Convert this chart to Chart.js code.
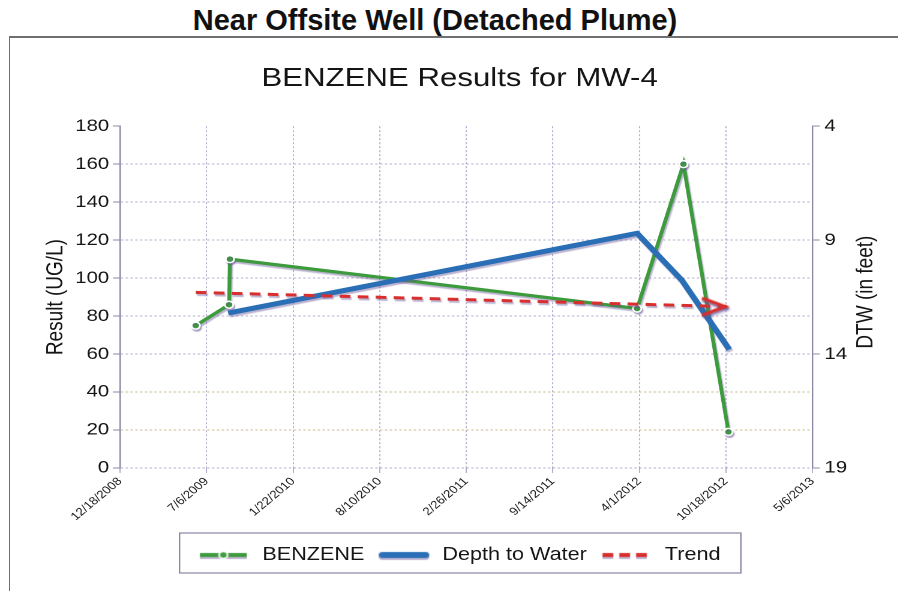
<!DOCTYPE html>
<html>
<head>
<meta charset="utf-8">
<title>BENZENE Results for MW-4</title>
<script src="https://cdn.jsdelivr.net/npm/chart.js@4"></script>
<style>
  body { margin: 0; background: #fff; width: 898px; height: 591px; overflow: hidden; position: relative; font-family: 'Liberation Sans', Arial, sans-serif; }
  #heading { position: absolute; left: 0; top: 4px; width: 870px; text-align: center; font-weight: bold; font-size: 29px; line-height: 32px; color: #111; }
  #frame { position: absolute; left: 9px; top: 36px; width: 1000px; height: 1000px; border-top: 2px solid #707070; border-left: 1px solid #707070; }
  /* the scanned chart is stretched sideways, so the canvas is too */
  #wrap { position: absolute; left: 0; top: 0; width: 748px; height: 591px; transform: scaleX(1.2); transform-origin: 0 0; }
</style>
</head>
<body>
<div id="heading">Near Offsite Well (Detached Plume)</div>
<div id="frame"></div>
<div id="wrap"><canvas id="mwChart"></canvas></div>
<script>
// x values are days since 12/18/2008
const xTickDays = [0, 200, 400, 600, 800, 1000, 1200, 1400, 1600];
const xTickLabels = ['12/18/2008', '7/6/2009', '1/22/2010', '8/10/2010', '2/26/2011', '9/14/2011', '4/1/2012', '10/18/2012', '5/6/2013'];

const benzeneDays = [175, 252, 254, 1195, 1302, 1406];
const benzeneValues = [75, 86, 110, 84, 160, 19];

const dtwDays = [250, 1195, 1298, 1408];
const dtwValues = [12.2, 8.7, 10.75, 13.8];

const trendDays = [175, 1403];
const trendValues = [92.5, 85];

const dtwTitle = 'DTW (in feet)';

const FONT = "'Liberation Sans', Arial, sans-serif";
const TEXT = '#151515';
const GREEN = '#3d9b3d';
const BLUE = '#2a6fb6';
const RED = '#d8302e';
const AXIS = '#8c86a6';
const GRID = 'rgba(150,140,185,0.7)';

function toPoints(xs, ys) {
    return xs.map((x, i) => ({ x: x, y: ys[i] }));
}

function sampleCanvas(draw) {
    const c = document.createElement('canvas');
    c.width = 44;
    c.height = 18;
    const g = c.getContext('2d');
    g.shadowColor = 'rgba(105,85,150,0.45)';
    g.shadowOffsetY = 2;
    draw(g);
    return c;
}

const legendSamples = [
    sampleCanvas(g => {
        g.strokeStyle = GREEN; g.lineWidth = 4;
        g.beginPath(); g.moveTo(1, 9); g.lineTo(40, 9); g.stroke();
        g.shadowColor = 'transparent';
        g.fillStyle = GREEN; g.strokeStyle = '#fff'; g.lineWidth = 1.5;
        g.beginPath(); g.arc(20.5, 9, 3.5, 0, Math.PI * 2); g.fill(); g.stroke();
    }),
    sampleCanvas(g => {
        g.strokeStyle = BLUE; g.lineWidth = 6; g.lineCap = 'round';
        g.beginPath(); g.moveTo(3, 9); g.lineTo(39, 9); g.stroke();
    }),
    sampleCanvas(g => {
        g.strokeStyle = RED; g.lineWidth = 4; g.setLineDash([9, 5]);
        g.beginPath(); g.moveTo(1, 9); g.lineTo(41, 9); g.stroke();
    })
];

// open chevron at the end of the trend line, tip in the centre of the image
const arrowHead = document.createElement('canvas');
arrowHead.width = 46;
arrowHead.height = 22;
(function () {
    const g = arrowHead.getContext('2d');
    g.shadowColor = 'rgba(105,85,150,0.45)';
    g.shadowOffsetY = 2;
    g.strokeStyle = RED;
    g.lineWidth = 3;
    g.beginPath();
    g.moveTo(2, 2.5);
    g.lineTo(21.5, 11);
    g.lineTo(2, 19.5);
    g.stroke();
})();

const printShadow = {
    id: 'printShadow',
    beforeDatasetDraw(chart) {
        const c = chart.ctx;
        c.save();
        c.shadowColor = 'rgba(105,85,150,0.45)';
        c.shadowOffsetX = 2;
        c.shadowOffsetY = 4;
        c.shadowBlur = 2;
    },
    afterDatasetDraw(chart) {
        chart.ctx.restore();
    }
};

const legendFrame = {
    id: 'legendFrame',
    afterDraw(chart) {
        const boxes = chart.legend.legendHitBoxes;
        if (!boxes || !boxes.length) return;
        const first = boxes[0];
        const last = boxes[boxes.length - 1];
        const left = first.left - 16;
        const right = last.left + last.width + 17;
        const mid = first.top + first.height / 2;
        const c = chart.ctx;
        c.save();
        c.strokeStyle = AXIS;
        c.lineWidth = 1.2;
        c.strokeRect(left, mid - 22, right - left, 40);
        c.restore();
    }
};

// right axis title reads bottom-to-top like the left one
const rightTitle = {
    id: 'rightTitle',
    afterDraw(chart) {
        const s = chart.scales.y2;
        const c = chart.ctx;
        c.save();
        c.translate(s.right - 26, (s.top + s.bottom) / 2 - 5);
        c.rotate(-Math.PI / 2);
        c.font = '19px ' + FONT;
        c.fillStyle = TEXT;
        c.textAlign = 'center';
        c.textBaseline = 'middle';
        c.fillText(dtwTitle, 0, 0);
        c.restore();
    }
};

const ctx = document.getElementById('mwChart').getContext('2d');
const mwChart = new Chart(ctx, {
    type: 'line',
    data: {
        datasets: [
            {
                label: 'BENZENE',
                data: toPoints(benzeneDays, benzeneValues),
                borderColor: GREEN,
                backgroundColor: GREEN,
                borderWidth: 3.2,
                pointRadius: 3.5,
                pointBackgroundColor: GREEN,
                pointBorderColor: '#fff',
                pointBorderWidth: 1.5,
                yAxisID: 'y',
                order: 3
            },
            {
                label: 'Depth to Water',
                data: toPoints(dtwDays, dtwValues),
                borderColor: BLUE,
                backgroundColor: BLUE,
                borderWidth: 5,
                pointRadius: 0,
                yAxisID: 'y2',
                order: 2
            },
            {
                label: 'Trend',
                data: toPoints(trendDays, trendValues),
                borderColor: RED,
                backgroundColor: RED,
                borderWidth: 3,
                borderDash: [9, 6],
                pointStyle: arrowHead,
                pointRadius: (c) => c.dataIndex === trendValues.length - 1 ? 6 : 0,
                yAxisID: 'y',
                order: 1
            }
        ]
    },
    options: {
        responsive: true,
        maintainAspectRatio: false,
        devicePixelRatio: 2,
        animation: false,
        events: [],
        layout: {
            padding: { left: 18, right: 0, top: 0, bottom: 17 }
        },
        plugins: {
            title: {
                display: true,
                text: 'BENZENE Results for MW-4',
                color: TEXT,
                font: { family: FONT, size: 26, weight: 'normal' },
                padding: { top: 63, bottom: 32 }
            },
            legend: {
                position: 'bottom',
                labels: {
                    usePointStyle: true,
                    pointStyleWidth: 44,
                    padding: 12,
                    color: TEXT,
                    font: { family: FONT, size: 18 },
                    generateLabels: (chart) => chart.data.datasets.map((ds, i) => ({
                        text: ds.label,
                        pointStyle: legendSamples[i],
                        datasetIndex: i,
                        hidden: false,
                        lineWidth: 0,
                        fontColor: TEXT,
                        fillStyle: 'transparent',
                        strokeStyle: 'transparent'
                    }))
                }
            },
            tooltip: { enabled: false }
        },
        scales: {
            x: {
                type: 'linear',
                min: xTickDays[0],
                max: xTickDays[xTickDays.length - 1],
                afterBuildTicks: (s) => { s.ticks = xTickDays.map(v => ({ value: v })); },
                afterFit: (s) => { s.height = 66; },
                ticks: {
                    autoSkip: false,
                    minRotation: 45,
                    maxRotation: 45,
                    padding: 2,
                    color: '#1a1a1a',
                    font: { family: FONT, size: 11 },
                    callback: (v, i) => xTickLabels[i]
                },
                grid: { color: GRID, tickColor: GRID, tickLength: 5, lineWidth: 1 },
                border: { display: false, dash: [2, 2] }
            },
            y: {
                position: 'left',
                min: 0,
                max: 180,
                afterFit: (s) => { s.width = 82; },
                ticks: {
                    stepSize: 20,
                    padding: 3,
                    color: TEXT,
                    font: { family: FONT, size: 17 }
                },
                grid: {
                    color: (c) => c.tick.value === 180 ? 'rgba(0,0,0,0)'
                        : (c.tick.value > 0 && c.tick.value <= 40 ? 'rgba(185,165,110,0.75)' : GRID),
                    tickColor: AXIS,
                    tickLength: 6,
                    lineWidth: 1
                },
                border: { color: AXIS, width: 1.2, dash: [2, 2] },
                title: {
                    display: true,
                    text: 'Result (UG/L)',
                    color: TEXT,
                    font: { family: FONT, size: 19 },
                    padding: { top: 17.6, bottom: 0 }
                }
            },
            y2: {
                position: 'right',
                min: 4,
                max: 19,
                reverse: true,
                afterFit: (s) => { s.width = 71; },
                ticks: {
                    stepSize: 5,
                    padding: 4,
                    color: TEXT,
                    font: { family: FONT, size: 17 }
                },
                grid: { drawOnChartArea: false, tickColor: AXIS, tickLength: 6 },
                border: { color: AXIS, width: 1.2 },
                title: { display: false }
            }
        }
    },
    plugins: [printShadow, legendFrame, rightTitle]
});
</script>
</body>
</html>
